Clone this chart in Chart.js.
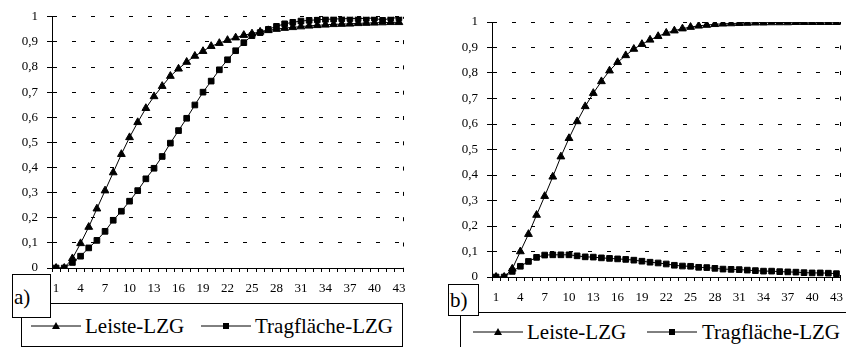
<!DOCTYPE html>
<html>
<head>
<meta charset="utf-8">
<script src="https://cdn.jsdelivr.net/npm/chart.js@4"></script>
<style>
  body { margin: 0; background: #fff; width: 846px; height: 347px; overflow: hidden; position: relative;
         font-family: "Liberation Serif", "Tinos", "Noto Serif", "DejaVu Serif", "Nimbus Roman", "FreeSerif", Times, serif; }
  canvas { position: absolute; top: 0; }
  .legend { position: absolute; border: 1px solid #000; background: #fff; }
  .tag { position: absolute; border: 1px solid #000; background: #fff; font-size: 21px; line-height: 1; }
  .txt { position: absolute; font-size: 21px; line-height: 1; white-space: nowrap; }
  svg { position: absolute; }
</style>
</head>
<body>
<canvas id="chartA" width="410" height="300" style="left:0px"></canvas>
<canvas id="chartB" width="406" height="310" style="left:440px"></canvas>

<!-- Legende a) -->
<div class="legend" style="left:21px; top:303px; width:380px; height:42px;"></div>
<svg style="left:31px; top:320px" width="50" height="12"><line x1="0" y1="6" x2="50" y2="6" stroke="#000"/><polygon points="25,2 29,9 21,9" fill="#000"/></svg>
<span class="txt" style="left:85px; top:316px">Leiste-LZG</span>
<svg style="left:201px; top:320px" width="50" height="12"><line x1="0" y1="6" x2="50" y2="6" stroke="#000"/><rect x="22" y="3" width="6" height="6" fill="#000"/></svg>
<span class="txt" style="left:255px; top:316px">Tragfläche-LZG</span>
<div class="tag" style="left:12px; top:274px; width:37px; height:42px;"><span style="position:absolute; left:1px; top:12px">a)</span></div>

<!-- Legende b) -->
<div class="legend" style="left:460px; top:312px; width:400px; height:60px;"></div>
<svg style="left:473px; top:326px" width="50" height="12"><line x1="0" y1="6" x2="50" y2="6" stroke="#000"/><polygon points="25,2 29,9 21,9" fill="#000"/></svg>
<span class="txt" style="left:527px; top:322px">Leiste-LZG</span>
<svg style="left:647px; top:326px" width="50" height="12"><line x1="0" y1="6" x2="50" y2="6" stroke="#000"/><rect x="22" y="3" width="6" height="6" fill="#000"/></svg>
<span class="txt" style="left:702px; top:322px">Tragfläche-LZG</span>
<div class="tag" style="left:448px; top:284px; width:29px; height:30px;"><span style="position:absolute; left:1px; top:5px">b)</span></div>

<script>
// Kategorien (Zeitschritte)
const categories = ['1','2','3','4','5','6','7','8','9','10','11','12','13','14','15','16','17','18','19','20',
  '21','22','23','24','25','26','27','28','29','30','31','32','33','34','35','36','37','38','39','40','41','42','43'];

const yTickLabels = ['0','0,1','0,2','0,3','0,4','0,5','0,6','0,7','0,8','0,9','1'];

// a)
const leisteA = [0, 0, 0.038, 0.098, 0.163, 0.236, 0.308, 0.38, 0.453, 0.52, 0.58, 0.636, 0.683, 0.724, 0.764,
  0.793, 0.82, 0.844, 0.863, 0.883, 0.895, 0.907, 0.917, 0.927, 0.933, 0.94, 0.946, 0.951, 0.955, 0.958,
  0.961, 0.964, 0.966, 0.968, 0.97, 0.971, 0.972, 0.974, 0.975, 0.976, 0.977, 0.978, 0.978];
const tragA = [0, 0, 0.022, 0.047, 0.08, 0.11, 0.146, 0.19, 0.226, 0.266, 0.308, 0.355, 0.397, 0.444, 0.497,
  0.547, 0.596, 0.649, 0.7, 0.744, 0.789, 0.829, 0.865, 0.897, 0.925, 0.937, 0.95, 0.962, 0.972, 0.978,
  0.983, 0.986, 0.988, 0.99, 0.991, 0.992, 0.993, 0.993, 0.994, 0.995, 0.986, 0.995, 0.996];

// b)
const leisteB = [0, 0, 0.032, 0.1, 0.168, 0.243, 0.317, 0.393, 0.472, 0.544, 0.61, 0.669, 0.721, 0.767, 0.809,
  0.842, 0.869, 0.894, 0.913, 0.93, 0.944, 0.957, 0.966, 0.974, 0.98, 0.985, 0.988, 0.991, 0.993, 0.994,
  0.995, 0.996, 0.997, 0.997, 0.998, 0.998, 0.998, 0.999, 0.999, 0.999, 0.999, 0.999, 0.999];
const tragB = [0, 0, 0.022, 0.042, 0.061, 0.077, 0.086, 0.087, 0.087, 0.087, 0.083, 0.079, 0.078, 0.075, 0.073,
  0.071, 0.069, 0.066, 0.062, 0.058, 0.055, 0.051, 0.046, 0.043, 0.042, 0.038, 0.037, 0.034, 0.031, 0.03,
  0.029, 0.027, 0.025, 0.023, 0.023, 0.021, 0.02, 0.019, 0.017, 0.016, 0.016, 0.015, 0.013];

const serif = "'Liberation Serif', Tinos, 'Noto Serif', 'DejaVu Serif', 'Nimbus Roman', FreeSerif, Times, serif";

function makeChart(id, leiste, trag, top, xHeight, right, rightDash) {
    new Chart(document.getElementById(id), {
        type: 'line',
        data: {
            labels: categories,
            datasets: [{
                label: 'Leiste-LZG',
                data: leiste,
                borderColor: '#000',
                backgroundColor: '#000',
                borderWidth: 1,
                pointStyle: 'triangle',
                pointRadius: 4.5,
                order: 1
            }, {
                label: 'Tragfläche-LZG',
                data: trag,
                borderColor: '#000',
                backgroundColor: '#000',
                borderWidth: 1,
                pointStyle: 'rect',
                pointRadius: 4,
                order: 0
            }]
        },
        options: {
            responsive: false,
            animation: false,
            layout: { padding: { top: top, right: right, left: 0, bottom: 0 } },
            plugins: { legend: { display: false }, tooltip: { enabled: false } },
            scales: {
                x: {
                    offset: true,
                    afterFit: s => { s.height = xHeight; s.paddingLeft = 0; s.paddingRight = 0; },
                    grid: {
                        offset: true,
                        color: c => c.type === 'scale' ? '#000' : 'rgba(0,0,0,0)',
                        tickColor: '#000',
                        tickLength: 4
                    },
                    border: { color: '#000', width: 1, dash: rightDash, dashOffset: 2 },
                    ticks: {
                        autoSkip: false,
                        maxRotation: 0,
                        padding: 9,
                        color: '#000',
                        font: { family: serif, size: 13 },
                        callback: (v, i) => i % 3 === 0 ? categories[i] : ''
                    }
                },
                y: {
                    min: 0,
                    max: 1,
                    afterFit: s => { s.width = 52; },
                    grid: { color: '#000', tickColor: '#000', tickLength: 5, lineWidth: 1 },
                    border: { color: '#000', width: 1, dash: [4, 15] },
                    ticks: {
                        stepSize: 0.1,
                        padding: 9,
                        color: '#000',
                        font: { family: serif, size: 13 },
                        callback: (v, i) => yTickLabels[i]
                    }
                }
            }
        }
    });
}

makeChart('chartA', leisteA, tragA, 15, 32, 7, [4, 21.3]);
makeChart('chartB', leisteB, tragB, 22, 33, 5, [4, 21.5]);
</script>
</body>
</html>
